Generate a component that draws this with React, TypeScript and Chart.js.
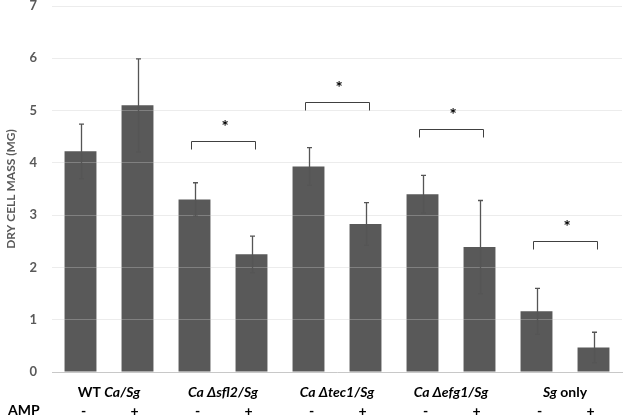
import React, { useEffect, useRef } from "react";
import { Chart, registerables } from "chart.js";

Chart.register(...registerables);

// ---- data ----
const groupParts: [string, boolean][][] = [
  [["WT ", false], ["Ca/Sg", true]],
  [["Ca \u0394sfl2/Sg", true]],
  [["Ca \u0394tec1/Sg", true]],
  [["Ca \u0394efg1/Sg", true]],
  [["Sg", true], [" only", false]],
];
const ampLabels = ["-", "+"];
const categories = [
  "WT Ca/Sg -", "WT Ca/Sg +",
  "Ca Δsfl2/Sg -", "Ca Δsfl2/Sg +",
  "Ca Δtec1/Sg -", "Ca Δtec1/Sg +",
  "Ca Δefg1/Sg -", "Ca Δefg1/Sg +",
  "Sg only -", "Sg only +",
];
const values = [4.22, 5.1, 3.3, 2.25, 3.93, 2.83, 3.4, 2.39, 1.16, 0.47];
const errors = [0.52, 0.89, 0.32, 0.35, 0.36, 0.41, 0.36, 0.89, 0.44, 0.29];
const bracketStart = [2, 4, 6, 8];
const bracketY = [4.41, 5.16, 4.65, 2.51];
const yTicks = [0, 1, 2, 3, 4, 5, 6, 7];
const yTitle = "DRY CELL MASS (MG)";
const ampTitle = "AMP";

const FONT = "Lato, 'Open Sans', sans-serif";

const overlayPlugin = {
  id: "overlay",
  afterDraw(chart: any) {
    const ctx = chart.ctx as CanvasRenderingContext2D;
    const x = chart.scales.x;
    const y = chart.scales.y;
    ctx.save();
    // error bars
    ctx.strokeStyle = "#555555";
    ctx.lineWidth = 1.3;
    values.forEach((v, i) => {
      const cx = Math.round(x.getPixelForValue(i)) + 0.5;
      const top = y.getPixelForValue(v + errors[i]);
      const bot = y.getPixelForValue(v - errors[i]);
      ctx.beginPath();
      ctx.moveTo(cx, top);
      ctx.lineTo(cx, bot);
      ctx.moveTo(cx - 2.5, top);
      ctx.lineTo(cx + 2.5, top);
      ctx.moveTo(cx - 2.5, bot);
      ctx.lineTo(cx + 2.5, bot);
      ctx.stroke();
    });
    // brackets
    ctx.strokeStyle = "#404040";
    ctx.lineWidth = 1;
    bracketStart.forEach((s, k) => {
      const c = (x.getPixelForValue(s) + x.getPixelForValue(s + 1)) / 2;
      const l = Math.round(c - 32) + 0.5;
      const r = Math.round(c + 32) + 0.5;
      const yy = Math.round(y.getPixelForValue(bracketY[k])) + 0.5;
      ctx.beginPath();
      ctx.moveTo(l, yy + 8);
      ctx.lineTo(l, yy);
      ctx.lineTo(r, yy);
      ctx.lineTo(r, yy + 8);
      ctx.stroke();
      ctx.fillStyle = "#000";
      ctx.font = `bold 17px ${FONT}`;
      ctx.textAlign = "center";
      ctx.textBaseline = "middle";
      ctx.fillText("*", c + 2, yy - 14);
    });
    // group labels
    ctx.fillStyle = "#000";
    ctx.textBaseline = "middle";
    ctx.textAlign = "left";
    groupParts.forEach((parts, g) => {
      const c = (x.getPixelForValue(g * 2) + x.getPixelForValue(g * 2 + 1)) / 2;
      let w = 0;
      parts.forEach(([t, it]) => {
        ctx.font = `${it ? "italic " : ""}bold 14px ${FONT}`;
        w += ctx.measureText(t).width;
      });
      let px = c - w / 2;
      parts.forEach(([t, it]) => {
        ctx.font = `${it ? "italic " : ""}bold 14px ${FONT}`;
        ctx.fillText(t, px, 392);
        px += ctx.measureText(t).width;
      });
    });
    // AMP row
    ctx.font = `bold 14px ${FONT}`;
    ctx.textAlign = "left";
    ctx.fillText(ampTitle, 8, 410);
    ctx.textAlign = "center";
    categories.forEach((_, i) => {
      const cx = x.getPixelForValue(i);
      ctx.fillText(ampLabels[i % 2], cx + (i % 2 === 0 ? 3 : -3), 411);
    });
    ctx.restore();
  },
};

export default function App() {
  const ref = useRef<HTMLCanvasElement | null>(null);
  useEffect(() => {
    if (!ref.current) return;
    const chart = new Chart(ref.current, {
      type: "bar",
      data: {
        labels: categories,
        datasets: [
          {
            data: values,
            backgroundColor: "#595959",
            borderWidth: 0,
            categoryPercentage: 1,
            barPercentage: 0.56,
          },
        ],
      },
      options: {
        responsive: false,
        animation: false,
        layout: { padding: { top: 6, right: 2, left: 0, bottom: 0 } },
        plugins: {
          legend: { display: false },
          tooltip: { enabled: false },
        },
        scales: {
          x: {
            grid: { display: false, drawTicks: false },
            border: { display: true, color: "#c8c8c8", width: 1 },
            ticks: { display: false },
            afterFit: (s: any) => {
              s.height = 46;
              s.paddingLeft = 0;
              s.paddingRight = 0;
            },
          },
          y: {
            min: 0,
            max: 7,
            afterBuildTicks: (s: any) => {
              s.ticks = yTicks.map((v) => ({ value: v }));
            },
            grid: {
              drawTicks: false,
              color: "rgba(200,200,200,0.35)",
              z: 1,
            },
            border: { display: false },
            ticks: {
              padding: 15,
              color: "#595959",
              font: { family: FONT, size: 13, weight: "bold" },
            },
            title: {
              display: true,
              text: yTitle,
              color: "#595959",
              font: { family: FONT, size: 12, weight: 700 },
              padding: { top: 4, bottom: 4 },
            },
            afterFit: (s: any) => {
              s.width = 52;
              s.paddingTop = 0;
              s.paddingBottom = 0;
            },
          },
        },
      },
      plugins: [overlayPlugin],
    } as any);
    return () => chart.destroy();
  }, []);
  return (
    <div style={{ position: "fixed", left: 0, top: 0, width: 624, height: 418, background: "#fff" }}>
      <canvas ref={ref} width={624} height={418} />
    </div>
  );
}
